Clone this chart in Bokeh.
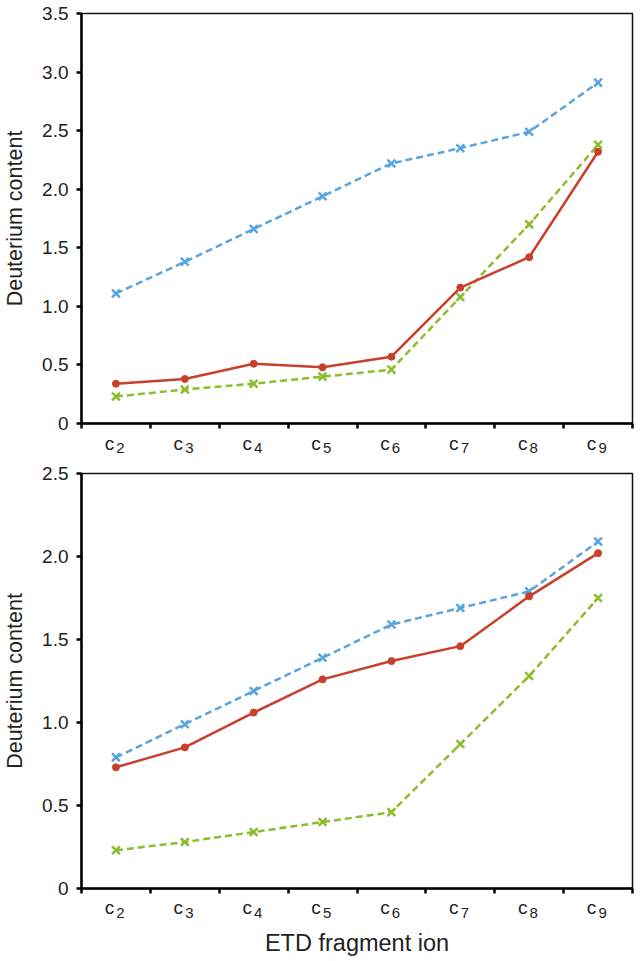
from bokeh.plotting import figure
from bokeh.layouts import column
from bokeh.models import Range1d, FixedTicker, CustomJSTickFormatter
from bokeh.core.properties import value
from bokeh.embed import file_html
from bokeh.resources import INLINE

categories = ["c2", "c3", "c4", "c5", "c6", "c7", "c8", "c9"]
ion_prefix = "c"
ion_numbers = ["2", "3", "4", "5", "6", "7", "8", "9"]

top_blue = [1.11, 1.38, 1.66, 1.94, 2.22, 2.35, 2.49, 2.91]
top_red = [0.34, 0.38, 0.51, 0.48, 0.57, 1.16, 1.42, 2.32]
top_green = [0.23, 0.29, 0.34, 0.40, 0.46, 1.08, 1.70, 2.38]

bot_blue = [0.79, 0.99, 1.19, 1.39, 1.59, 1.69, 1.79, 2.09]
bot_red = [0.73, 0.85, 1.06, 1.26, 1.37, 1.46, 1.76, 2.02]
bot_green = [0.23, 0.28, 0.34, 0.40, 0.46, 0.87, 1.28, 1.75]

top_yticks = [0, 0.5, 1.0, 1.5, 2.0, 2.5, 3.0, 3.5]
bot_yticks = [0, 0.5, 1.0, 1.5, 2.0, 2.5]

x_title = "ETD fragment ion"
y_title = "Deuterium content"

BLUE = "#5aa5dd"
RED = "#c8402c"
GREEN = "#8cbd2e"
TEXT = "#222222"
FONT = "Liberation Sans"
LEFT = 80
RIGHT = 2
W = LEFT + 552 + RIGHT

xs = [i + 0.5 for i in range(len(categories))]
x_edges = list(range(len(categories) + 1))


def make_panel(blue, red, green, yticks, height, border_top, border_bottom):
    p = figure(width=W, height=height, output_backend="svg", toolbar_location=None,
               x_range=Range1d(0, len(categories)), y_range=Range1d(0, yticks[-1]),
               min_border_left=LEFT, min_border_right=RIGHT,
               min_border_top=border_top, min_border_bottom=border_bottom)
    p.grid.visible = False
    p.outline_line_color = "#111111"
    p.outline_line_width = 1.5

    p.line(xs, blue, line_color=BLUE, line_width=2.5, line_dash="7 4")
    p.scatter(xs, blue, marker="x", size=11, line_color=BLUE, line_width=2.5)
    p.line(xs, green, line_color=GREEN, line_width=2.5, line_dash="7 4")
    p.scatter(xs, green, marker="x", size=11, line_color=GREEN, line_width=2.5)
    p.line(xs, red, line_color=RED, line_width=2.5)
    p.scatter(xs, red, marker="circle", size=7, fill_color=RED, line_color=RED)

    xa = p.xaxis[0]
    xa.ticker = FixedTicker(ticks=x_edges)
    xa.major_label_overrides = {i: "" for i in x_edges}
    xa.major_label_text_font_size = "1px"
    xa.major_label_standoff = 0
    xa.axis_line_width = 2.5
    xa.axis_line_color = "black"
    xa.major_tick_line_width = 2.5
    xa.major_tick_out = 5
    xa.major_tick_in = 0
    xa.minor_tick_line_color = None

    ya = p.yaxis[0]
    ya.ticker = FixedTicker(ticks=yticks)
    ya.formatter = CustomJSTickFormatter(code="return tick == 0 ? '0' : tick.toFixed(1);")
    ya.major_label_text_font = FONT
    ya.major_label_text_font_size = "19px"
    ya.major_label_text_color = TEXT
    ya.axis_line_width = 2.5
    ya.axis_line_color = "black"
    ya.major_tick_line_width = 2.5
    ya.major_tick_out = 5
    ya.major_tick_in = 0
    ya.minor_tick_line_color = None
    ya.major_label_standoff = 8
    ya.axis_label = y_title
    ya.axis_label_text_font = FONT
    ya.axis_label_text_font_size = "21.5px"
    ya.axis_label_text_font_style = "normal"
    ya.axis_label_text_color = TEXT
    ya.axis_label_standoff = 12
    return p


def make_strip(height, c_base, n_base, title_base=None):
    s = figure(width=W, height=height, output_backend="svg", toolbar_location=None,
               x_range=Range1d(0, len(categories)), y_range=Range1d(height, 0),
               x_axis_type=None, y_axis_type=None,
               min_border_left=LEFT, min_border_right=RIGHT,
               min_border_top=0, min_border_bottom=0)
    s.grid.visible = False
    s.outline_line_color = None
    s.text(x=xs, y=[c_base] * len(xs), text=[ion_prefix] * len(xs),
           text_font=value(FONT), text_font_size="19px", text_color=TEXT,
           text_align="center", text_baseline="alphabetic", x_offset=-6.5)
    s.text(x=xs, y=[n_base] * len(xs), text=ion_numbers,
           text_font=value(FONT), text_font_size="15px", text_color=TEXT,
           text_align="center", text_baseline="alphabetic", x_offset=4.5)
    if title_base is not None:
        s.text(x=[len(categories) / 2], y=[title_base], text=[x_title],
               text_font=value(FONT), text_font_size="23.5px", text_color=TEXT,
               text_align="center", text_baseline="alphabetic")
    return s


top = make_panel(top_blue, top_red, top_green, top_yticks, 433, 13, 10)
top_strip = make_strip(30, 10, 14.5)
bottom = make_panel(bot_blue, bot_red, bot_green, bot_yticks, 435, 10, 10)
bottom_strip = make_strip(60, 9, 14.5, 44)

layout = column(top, top_strip, bottom, bottom_strip, spacing=0)
open("out.html", "w").write(file_html(layout, INLINE))
